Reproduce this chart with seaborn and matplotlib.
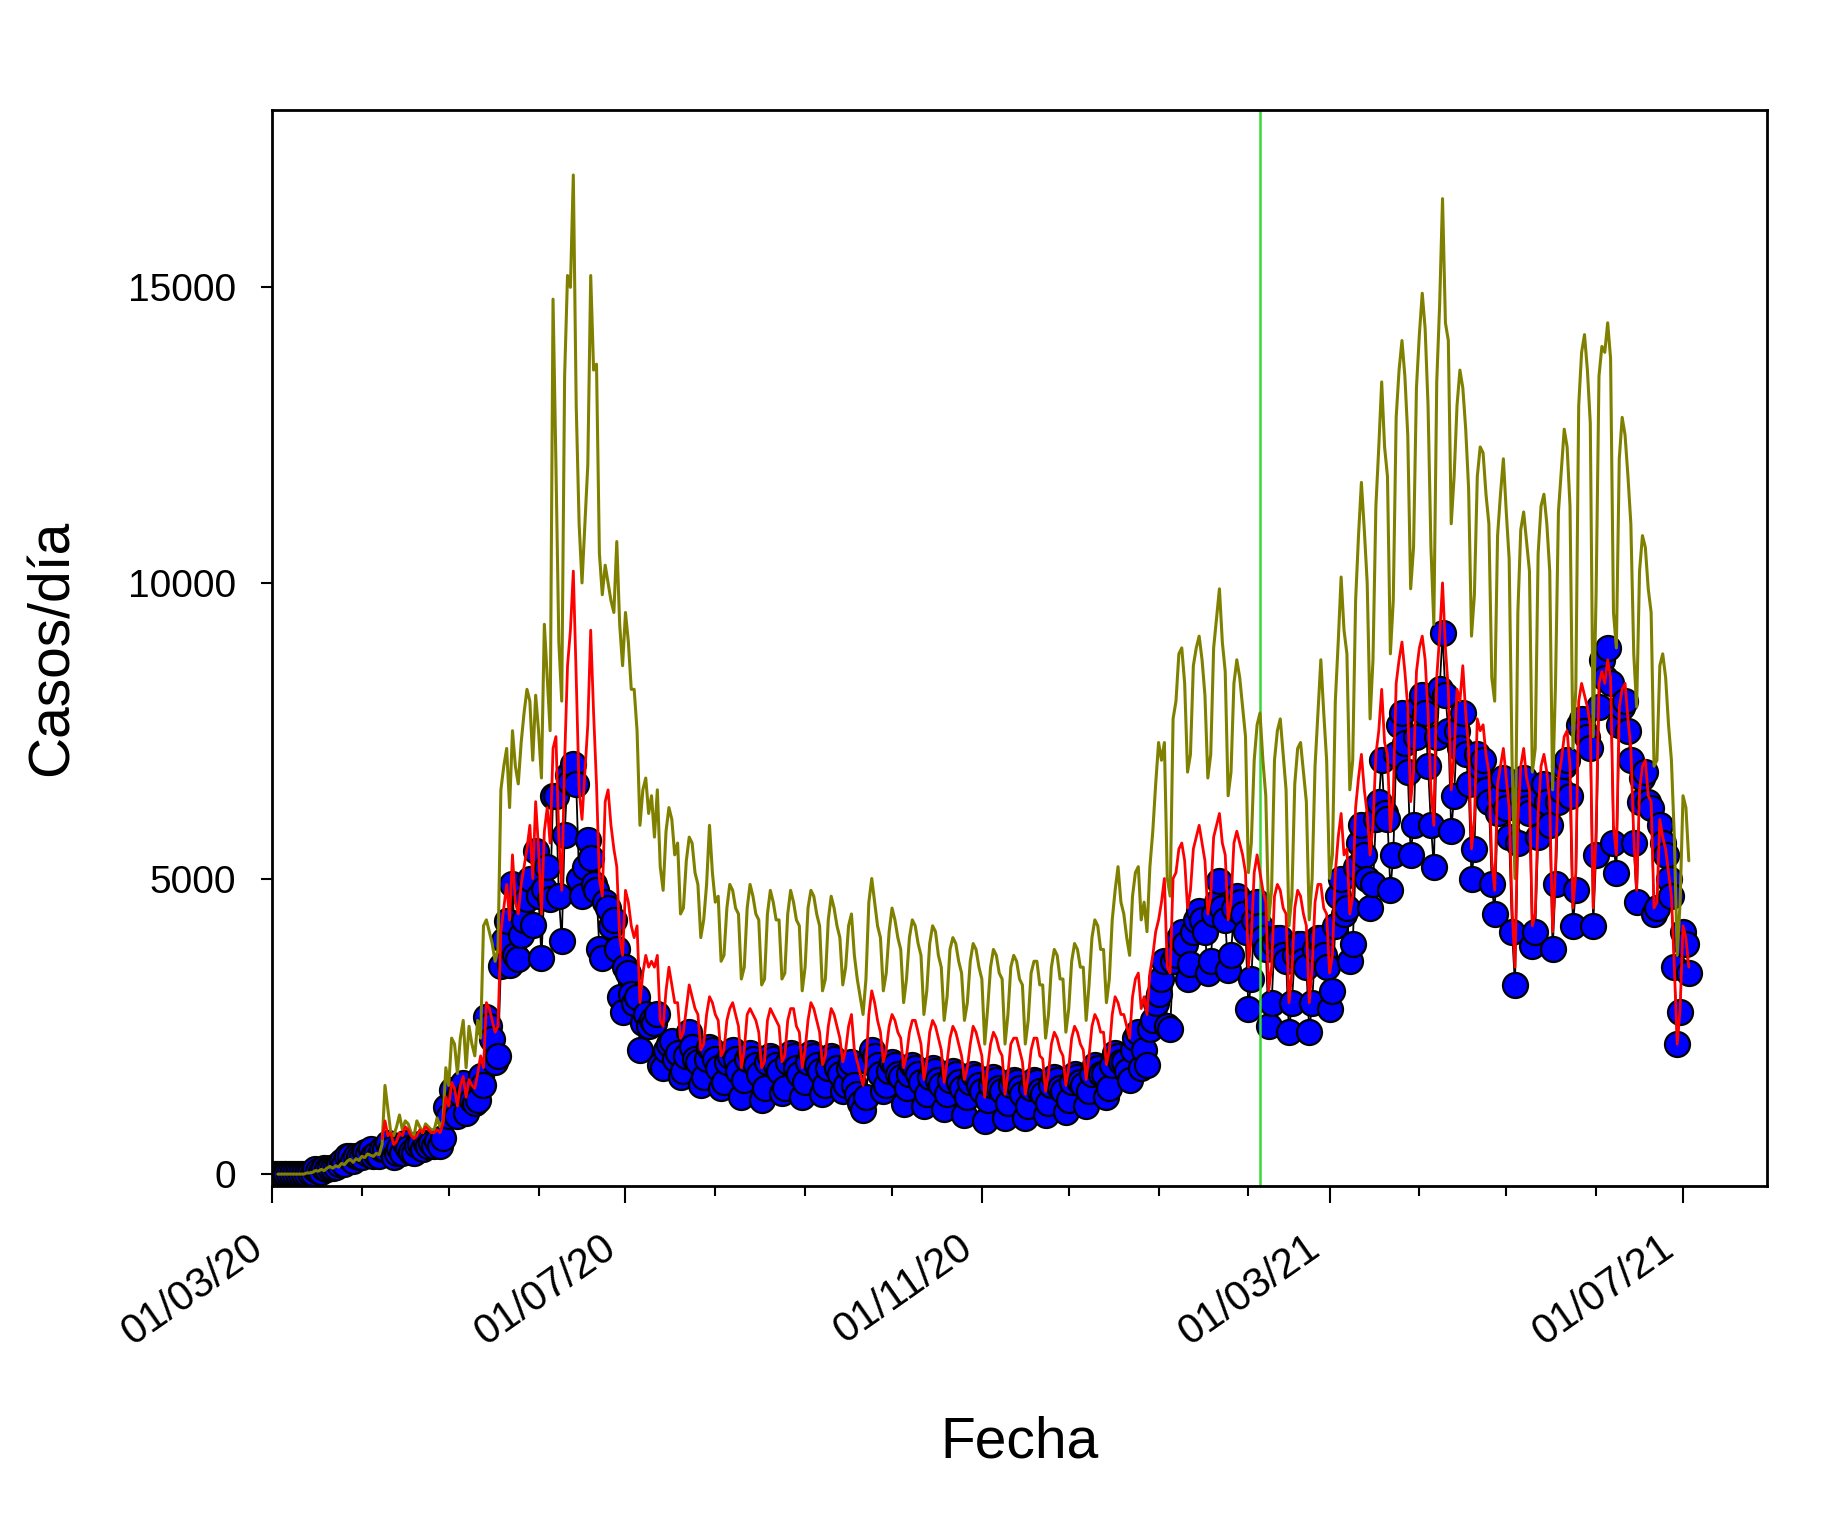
import pandas as pd
import matplotlib
matplotlib.use('Agg')
import matplotlib.pyplot as plt
import matplotlib.dates as mdates
import matplotlib.transforms as mtransforms
import seaborn as sns

# Casos diarios (puntos azules), una fila por semana (dom..sab), desde 01/03/20
casos_inicio = '2020-03-01'
casos = [
    0, 0, 0, 1, 0, 1, 2,
    3, 3, 4, 6, 10, 10, 18,
    14, 80, 46, 37, 104, 92, 103,
    95, 114, 176, 220, 164, 304, 299,
    230, 310, 289, 293, 373, 333, 424,
    310, 344, 301, 426, 430, 529, 426,
    286, 357, 442, 358, 534, 445, 368,
    358, 494, 514, 422, 525, 482, 532,
    478, 552, 478, 606, 1138, 985, 1427,
    1228, 980, 1373, 1533, 1032, 1391, 1247,
    1200, 1250, 1660, 1500, 2660, 2500, 2280,
    1900, 2000, 3520, 3960, 4280, 3540, 4900,
    3700, 3640, 4040, 4300, 4650, 4990, 4220,
    5470, 4700, 3650, 4830, 5200, 4660, 6400,
    6400, 4700, 3950, 5740, 6750, 6640, 6940,
    6600, 5000, 4700, 5200, 5650, 5350, 4900,
    4800, 3800, 3650, 4600, 4500, 4200, 4300,
    3800, 3000, 2750, 3500, 3400, 3050, 2900,
    3000, 2100, 2550, 2700, 2500, 2600, 2550,
    2700, 1850, 1800, 2100, 2200, 2250, 1950,
    2050, 1650, 1750, 2000, 2400, 2150, 1950,
    1900, 1500, 1650, 1950, 2150, 2100, 1950,
    1800, 1450, 1550, 1900, 2000, 2100, 1950,
    1750, 1300, 1600, 1950, 2050, 1950, 1850,
    1700, 1250, 1450, 1900, 2000, 1950, 1850,
    1750, 1380, 1450, 1900, 2050, 2000, 1800,
    1700, 1300, 1550, 1900, 2050, 2000, 1850,
    1750, 1350, 1500, 1800, 2000, 1950, 1800,
    1700, 1400, 1500, 1800, 1900, 1500, 1350,
    1200, 1080, 1300, 1900, 2100, 2000, 1850,
    1700, 1400, 1500, 1750, 1900, 1850, 1700,
    1650, 1180, 1450, 1700, 1850, 1800, 1700,
    1550, 1150, 1350, 1650, 1800, 1750, 1600,
    1500, 1100, 1350, 1600, 1750, 1700, 1550,
    1450, 1000, 1300, 1550, 1700, 1650, 1500,
    1400, 900, 1250, 1500, 1650, 1600, 1450,
    1400, 950, 1200, 1500, 1600, 1550, 1450,
    1350, 950, 1150, 1450, 1600, 1550, 1400,
    1350, 1000, 1200, 1500, 1650, 1600, 1450,
    1400, 1050, 1250, 1550, 1700, 1650, 1550,
    1500, 1150, 1400, 1700, 1850, 1800, 1700,
    1700, 1300, 1450, 1850, 2050, 2000, 1900,
    1900, 1750, 1600, 2100, 2300, 2400, 1800,
    2100, 1850, 2450, 2600, 2900, 3050, 3300,
    3600, 2500, 2450, 3600, 3700, 4000, 4100,
    3900, 3300, 3550, 4100, 4300, 4450, 4300,
    4100, 3400, 3600, 4400, 4600, 4950, 4500,
    4300, 3450, 3700, 4500, 4700, 4600, 4400,
    4100, 2800, 3300, 4300, 4600, 4200, 4000,
    3800, 2500, 2900, 3900, 4000, 4000, 3700,
    3600, 2400, 2900, 3700, 3900, 3900, 3600,
    3500, 2400, 2900, 3800, 4000, 4000, 3700,
    3500, 2800, 3100, 4200, 4700, 5000, 4400,
    4500, 3600, 3900, 5200, 5600, 5900, 5400,
    5000, 4500, 4900, 6000, 6300, 7000, 6100,
    6000, 4800, 5400, 7100, 7600, 7800, 7300,
    6800, 5400, 5900, 7400, 7900, 8100, 7800,
    6900, 5900, 5200, 7400, 8200, 9150, 8100,
    7500, 5800, 6400, 7500, 7200, 7800, 7100,
    6600, 5000, 5500, 7100, 6900, 7000, 6500,
    6300, 4900, 4400, 6100, 6400, 6700, 6200,
    5700, 4100, 3200, 5600, 6400, 6700, 6200,
    6100, 3850, 4100, 5700, 6400, 6600, 6300,
    5900, 3800, 4900, 6300, 6500, 6900, 7000,
    6400, 4200, 4800, 7600, 7700, 7500, 7400,
    7200, 4200, 5400, 7900, 8700, 8400, 8900,
    8300, 5600, 5100, 7600, 7900, 8000, 7500,
    7000, 5600, 4600, 6300, 6700, 6800, 6300,
    6200, 4400, 4500, 5900, 5600, 5400, 5000,
    4700, 3500, 2200, 2750, 4100, 3900, 3400,
]

# Curva roja, desde 08/04/20
rojo_inicio = '2020-04-08'
rojo = [
    600, 900, 650, 700,
    500, 550, 700, 650, 800, 750, 650,
    600, 650, 750, 700, 800, 750, 700,
    700, 750, 700, 850, 1300, 1150, 1550,
    1450, 1150, 1500, 1650, 1300, 1600, 1500,
    1450, 1700, 2000, 1800, 2900, 2800, 2600,
    2400, 2500, 4100, 4500, 4900, 4300, 5400,
    4600, 4400, 4900, 5200, 5500, 5900, 5000,
    6300, 5500, 4400, 5800, 6200, 5600, 7200,
    7400, 5700, 4800, 7000, 8600, 9200, 10200,
    8400, 6500, 6000, 6800, 7600, 9200, 7800,
    6600, 5000, 4700, 6300, 6500, 5900, 5500,
    5200, 4000, 3700, 4800, 4600, 4200, 4000,
    4200, 2900, 3400, 3700, 3500, 3600, 3500,
    3700, 2600, 2500, 3100, 3500, 3200, 2900,
    2900, 2300, 2400, 2800, 3200, 3000, 2800,
    2700, 2100, 2200, 2700, 3000, 2900, 2700,
    2600, 2000, 2100, 2600, 2800, 2900, 2700,
    2500, 1800, 2100, 2700, 2800, 2700, 2600,
    2400, 1800, 1900, 2600, 2800, 2700, 2600,
    2500, 1900, 2000, 2600, 2800, 2800, 2500,
    2400, 1800, 2100, 2600, 2900, 2800, 2600,
    2400, 1850, 2000, 2500, 2800, 2700, 2500,
    2300, 1900, 2100, 2500, 2700, 2100, 1900,
    1700, 1500, 1800, 2700, 3100, 2900, 2600,
    2400, 1900, 2100, 2500, 2700, 2600, 2400,
    2300, 1800, 2000, 2400, 2600, 2600, 2400,
    2200, 1600, 1900, 2400, 2600, 2500, 2300,
    2100, 1550, 1900, 2300, 2500, 2400, 2200,
    2000, 1600, 1800, 2200, 2500, 2400, 2200,
    2000, 1300, 1800, 2200, 2400, 2300, 2100,
    2000, 1350, 1700, 2200, 2300, 2300, 2100,
    1900, 1350, 1650, 2100, 2300, 2300, 2000,
    1950, 1400, 1700, 2200, 2400, 2300, 2100,
    2000, 1500, 1800, 2300, 2500, 2400, 2200,
    2100, 1600, 2000, 2500, 2700, 2600, 2400,
    2400, 1850, 2100, 2700, 3000, 2900, 2700,
    2700, 2500, 2300, 3000, 3300, 3400, 2800,
    3000, 2700, 3400, 3700, 4100, 4300, 4600,
    5000, 3500, 3400, 5000, 5100, 5500, 5600,
    5300, 4500, 4800, 5500, 5700, 5900, 5600,
    5300, 4400, 4700, 5700, 5900, 6100, 5600,
    5400, 4300, 4600, 5600, 5800, 5600, 5400,
    5100, 3500, 4000, 5100, 5400, 5100, 4800,
    4600, 3100, 3500, 4700, 4900, 4800, 4500,
    4400, 2900, 3400, 4500, 4800, 4700, 4400,
    4200, 2900, 3500, 4600, 4900, 4900, 4500,
    4400, 3400, 3700, 5100, 5700, 6100, 5400,
    5500, 4400, 4700, 6200, 6700, 7100, 6500,
    6100, 5400, 5900, 7100, 7500, 8200, 7300,
    7100, 5800, 6400, 8300, 8700, 9000, 8500,
    7900, 6300, 6800, 8500, 8900, 9100, 8700,
    7800, 6500, 5900, 8400, 9100, 10000, 8900,
    8200, 6500, 7100, 8200, 8000, 8600, 7800,
    7200, 5500, 6000, 7700, 7500, 7600, 7100,
    6800, 5300, 4800, 6600, 6900, 7200, 6700,
    6200, 4500, 3500, 6000, 6900, 7200, 6700,
    6500, 4200, 4400, 6100, 6900, 7100, 6800,
    6300, 4100, 5200, 6700, 7000, 7400, 7500,
    6900, 4500, 5100, 8000, 8300, 8100, 7900,
    7600, 4500, 5800, 8300, 8500, 8300, 8700,
    8400, 5900, 5400, 7900, 8200, 8300, 7700,
    7200, 5700, 4800, 6500, 6900, 7000, 6400,
    6300, 4500, 4600, 6000, 5700, 5500, 5100,
    4700, 3500, 2200, 2800, 4200, 4000, 3500,
]

# Curva oliva, desde 03/03/20
oliva_inicio = '2020-03-03'
oliva = [
    0, 0, 0, 0, 0,
    0, 0, 0, 0, 0, 20, 20,
    30, 60, 50, 80, 60, 100, 130,
    100, 140, 120, 180, 160, 220, 250,
    200, 260, 230, 300, 280, 340, 320,
    300, 350, 330, 500, 1500, 1100, 700,
    650, 800, 1000, 750, 900, 850, 700,
    650, 900, 800, 700, 850, 800, 750,
    750, 950, 800, 900, 1800, 1500, 2300,
    2200, 1700, 2300, 2600, 1800, 2500, 2200,
    2000, 2600, 2300, 4200, 4300, 4100, 3900,
    3600, 3800, 6500, 6900, 7200, 6200, 7500,
    6900, 6600, 7300, 7800, 8200, 8000, 7000,
    8100, 7500, 6700, 9300, 8400, 7500, 14800,
    12000, 9000, 8000, 13500, 15200, 15000, 16900,
    13000, 11000, 10000, 11000, 12000, 15200, 13600,
    13700, 10500, 9800, 10300, 10000, 9700, 9500,
    10700, 9300, 8600, 9500, 9000, 8200, 8200,
    7500, 5900, 6500, 6700, 6100, 6400, 5700,
    6500, 5200, 4800, 5800, 6200, 6000, 5400,
    5600, 4400, 4500, 5300, 5700, 5600, 5100,
    4900, 4000, 4300, 4900, 5900, 5100, 4600,
    4700, 3600, 3700, 4500, 4900, 4800, 4500,
    4400, 3300, 3500, 4500, 4900, 4700, 4400,
    4300, 3200, 3300, 4400, 4800, 4600, 4300,
    4300, 3300, 3400, 4400, 4800, 4600, 4300,
    4200, 3100, 3500, 4500, 4800, 4700, 4400,
    4200, 3100, 3300, 4300, 4700, 4500, 4200,
    4000, 3200, 3500, 4200, 4400, 3700, 3300,
    3000, 2700, 3300, 4600, 5000, 4600, 4200,
    4000, 3100, 3400, 4100, 4500, 4300, 4000,
    3800, 2900, 3300, 4000, 4300, 4200, 3900,
    3700, 2700, 3100, 3900, 4200, 4100, 3700,
    3500, 2600, 3000, 3800, 4000, 3900, 3600,
    3400, 2600, 2900, 3600, 3900, 3800, 3500,
    3300, 2200, 2800, 3500, 3800, 3700, 3400,
    3300, 2200, 2700, 3500, 3700, 3600, 3300,
    3200, 2200, 2600, 3400, 3600, 3600, 3200,
    3200, 2300, 2700, 3500, 3800, 3700, 3300,
    3300, 2400, 2800, 3600, 3900, 3800, 3500,
    3500, 2600, 3200, 4000, 4300, 4200, 3800,
    3800, 2900, 3300, 4300, 4800, 5200, 4600,
    4400, 4000, 3700, 4700, 5100, 5200, 4300,
    4600, 4100, 5200, 5800, 6600, 7300, 7000,
    7300, 5000, 4700, 7700, 8000, 8800, 8900,
    8300, 6800, 7100, 8600, 8900, 9100, 8700,
    8100, 6700, 7100, 8900, 9400, 9900, 9000,
    8500, 6400, 6800, 8300, 8700, 8400, 7900,
    7400, 5100, 5600, 7000, 7600, 7800, 7000,
    6400, 4300, 4800, 7000, 7500, 7700, 7100,
    6500, 4200, 4700, 6600, 7200, 7300, 6800,
    6300, 4300, 5000, 6900, 7800, 8700, 7800,
    7000, 5000, 5400, 8000, 9000, 10100, 9200,
    8800, 6500, 7000, 9700, 10800, 11700, 10900,
    10000, 7700, 8700, 11300, 12300, 13400, 12300,
    11800, 8800, 9700, 12800, 13600, 14100, 13500,
    12500, 9900, 10600, 13300, 14200, 14900, 14300,
    13000, 10600, 9300, 13400, 14700, 16500, 14400,
    14100, 11000, 11800, 13000, 13600, 13300, 12600,
    11600, 9100, 9800, 11800, 12300, 12200, 11500,
    11000, 8400, 8000, 10800, 11500, 12100, 11200,
    10400, 7000, 5000, 9500, 10900, 11200, 10700,
    10200, 6800, 7200, 10500, 11300, 11500, 11000,
    10200, 6500, 8300, 11200, 11900, 12600, 12300,
    11300, 7200, 8200, 13000, 13900, 14200, 13600,
    12700, 7400, 9800, 13500, 14000, 13900, 14400,
    13800, 9500, 8900, 12100, 12800, 12500, 11800,
    11000, 8800, 7900, 10200, 10800, 10600, 9900,
    9500, 6900, 7000, 8600, 8800, 8400, 7600,
    7000, 5700, 3700, 4600, 6400, 6200, 5300,
]

vacunacion = '2021-02-05'
y_ticks = [0, 5000, 10000, 15000]

df_casos = pd.DataFrame({'fecha': pd.date_range(casos_inicio, periods=len(casos)), 'casos': casos})
df_rojo = pd.DataFrame({'fecha': pd.date_range(rojo_inicio, periods=len(rojo)), 'casos': rojo})
df_oliva = pd.DataFrame({'fecha': pd.date_range(oliva_inicio, periods=len(oliva)), 'casos': oliva})

sns.set_style('white')
plt.rcParams['font.family'] = ['Liberation Sans', 'DejaVu Sans']
plt.rcParams['text.color'] = 'black'
plt.rcParams['axes.labelcolor'] = 'black'
plt.rcParams['xtick.color'] = 'black'
plt.rcParams['ytick.color'] = 'black'

fig = plt.figure(figsize=(18.23, 15.21), dpi=100)
ax = fig.add_axes([0.1492, 0.2203, 0.8201, 0.7074])

sns.lineplot(data=df_casos, x='fecha', y='casos', ax=ax, color='black', lw=1.3,
             marker='o', markersize=18, markerfacecolor='#0000ff',
             markeredgecolor='black', markeredgewidth=1.6, zorder=2)
ax.axvline(pd.Timestamp(vacunacion), color='#3ad83a', lw=1.8, zorder=2.5)
sns.lineplot(data=df_oliva, x='fecha', y='casos', ax=ax, color='#808000', lw=2.2, zorder=3)
sns.lineplot(data=df_rojo, x='fecha', y='casos', ax=ax, color='#ff0000', lw=2.0, zorder=4)

ax.set_xlim(pd.Timestamp('2020-03-01'), pd.Timestamp('2021-07-30'))
ax.set_ylim(-200, 18000)
ax.set_yticks(y_ticks)
ax.set_yticklabels([str(t) for t in y_ticks])

ax.xaxis.set_major_locator(mdates.MonthLocator(bymonth=[3, 7, 11]))
ax.xaxis.set_minor_locator(mdates.MonthLocator())
ax.xaxis.set_major_formatter(mdates.DateFormatter('%d/%m/%y'))

ax.tick_params(axis='x', which='major', direction='out', length=12, width=1.5,
               labelsize=30, pad=18, bottom=True, colors='black')
ax.tick_params(axis='x', which='minor', direction='out', length=7, width=1.5, bottom=True)
ax.tick_params(axis='y', which='major', direction='out', length=8, width=1.5,
               labelsize=28, pad=18, left=True, colors='black')

# desplazar las etiquetas de fecha un poco a la izquierda del tick
shift = mtransforms.ScaledTranslation(-18 / 72, 0, fig.dpi_scale_trans)
for lab in ax.get_xticklabels():
    lab.set_rotation(35)
    lab.set_ha('right')
    lab.set_va('top')
    lab.set_rotation_mode('anchor')
    lab.set_transform(lab.get_transform() + shift)

for s in ax.spines.values():
    s.set_linewidth(2)
    s.set_color('black')

ax.set_xlabel('Fecha', fontsize=41, color='black')
ax.set_ylabel('Casos/día', fontsize=41, color='black')
ax.xaxis.set_label_coords(0.5, -0.238)
ax.xaxis.label.set_va('center')
ax.yaxis.set_label_coords(-0.147, 0.5)
ax.yaxis.label.set_va('center')
ax.grid(False)

fig.savefig('out.png', dpi=100)
